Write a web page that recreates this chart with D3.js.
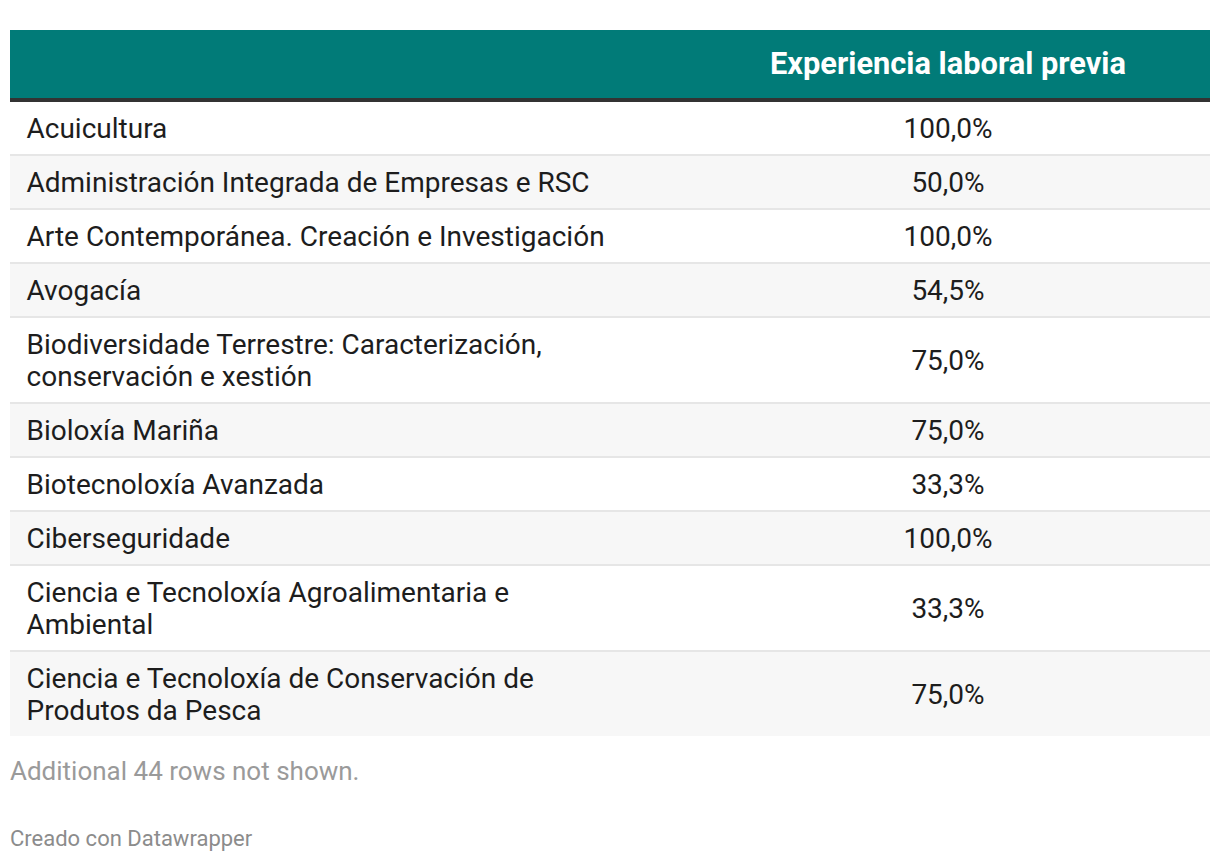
<!DOCTYPE html>
<html>
<head>
<meta charset="utf-8">
<script src="https://cdn.jsdelivr.net/npm/d3@7"></script>
<style>
  html, body { margin: 0; padding: 0; background: #fff; }
  svg { display: block; font-family: Roboto, "Noto Sans", sans-serif; }
</style>
</head>
<body>
<svg id="chart" width="1220" height="862"></svg>
<script>
const columnHeader = "Experiencia laboral previa";
const categories = [
  "Acuicultura",
  "Administración Integrada de Empresas e RSC",
  "Arte Contemporánea. Creación e Investigación",
  "Avogacía",
  "Biodiversidade Terrestre: Caracterización, conservación e xestión",
  "Bioloxía Mariña",
  "Biotecnoloxía Avanzada",
  "Ciberseguridade",
  "Ciencia e Tecnoloxía Agroalimentaria e Ambiental",
  "Ciencia e Tecnoloxía de Conservación de Produtos da Pesca"
];
const values = [100.0, 50.0, 100.0, 54.5, 75.0, 75.0, 33.3, 100.0, 33.3, 75.0];
const hiddenRows = 44;
const footerNote = "Additional " + hiddenRows + " rows not shown.";
const credit = "Creado con Datawrapper";

const svg = d3.select("#chart");
const left = 10, right = 1210;
const headerTop = 30, headerH = 68, headerBorder = 4;
const fontSize = 28, headerFont = 30.8, lineH = 32, pad = 10, rowBorder = 2;
const labelX = 26.5, labelMaxW = 595, valueX = 948;

const fmt = v => d3.format(".1f")(v).replace(".", ",") + "%";

// measure & wrap labels
const measure = svg.append("text").attr("font-size", fontSize).attr("visibility", "hidden");
function wrap(str) {
  const words = str.split(" ");
  const lines = [];
  let cur = "";
  words.forEach(w => {
    const test = cur ? cur + " " + w : w;
    measure.text(test);
    if (measure.node().getComputedTextLength() > labelMaxW && cur) {
      lines.push(cur); cur = w;
    } else cur = test;
  });
  if (cur) lines.push(cur);
  return lines;
}
const rows = categories.map((c, i) => ({ name: c, value: values[i], lines: wrap(c), i }));
measure.remove();

let y = headerTop + headerH + headerBorder;
rows.forEach(r => {
  r.y0 = y;
  r.h = r.lines.length * lineH + 2 * pad;
  y += r.h + rowBorder;
});
const tableBottom = y - rowBorder;

// header
svg.append("rect").attr("x", left).attr("y", headerTop).attr("width", right - left)
  .attr("height", headerH).attr("fill", "#017b78");
svg.append("rect").attr("x", left).attr("y", headerTop + headerH).attr("width", right - left)
  .attr("height", headerBorder).attr("fill", "#333333");
svg.append("text").attr("x", valueX).attr("y", headerTop + headerH / 2 + 9.5)
  .attr("text-anchor", "middle").attr("font-size", headerFont).attr("font-weight", 700)
  .attr("fill", "#ffffff").text(columnHeader);

// rows
const g = svg.append("g");
const rowG = g.selectAll("g.row").data(rows).join("g").attr("class", "row");
rowG.append("rect").attr("x", left).attr("y", d => d.y0).attr("width", right - left)
  .attr("height", d => d.h).attr("fill", d => d.i % 2 ? "#f7f7f7" : "#ffffff");
rowG.filter(d => d.i < rows.length - 1).append("rect").attr("x", left)
  .attr("y", d => d.y0 + d.h).attr("width", right - left).attr("height", rowBorder)
  .attr("fill", "#e6e6e6");
rowG.append("text").attr("font-size", fontSize).attr("fill", "#1d1d1d")
  .selectAll("tspan").data(d => d.lines.map((l, k) => ({ l, k, d }))).join("tspan")
  .attr("x", labelX)
  .attr("y", t => t.d.y0 + pad + t.k * lineH + lineH / 2 + 10)
  .text(t => t.l);
rowG.append("text").attr("font-size", fontSize).attr("fill", "#1d1d1d")
  .attr("text-anchor", "middle").attr("x", valueX)
  .attr("y", d => d.y0 + d.h / 2 + 10).text(d => fmt(d.value));

// footer
svg.append("text").attr("x", left).attr("y", tableBottom + 44).attr("font-size", 26)
  .attr("fill", "#9a9a9a").text(footerNote);
svg.append("text").attr("x", left).attr("y", 846).attr("font-size", 22)
  .attr("fill", "#8c8c8c").text(credit);
</script>
</body>
</html>
